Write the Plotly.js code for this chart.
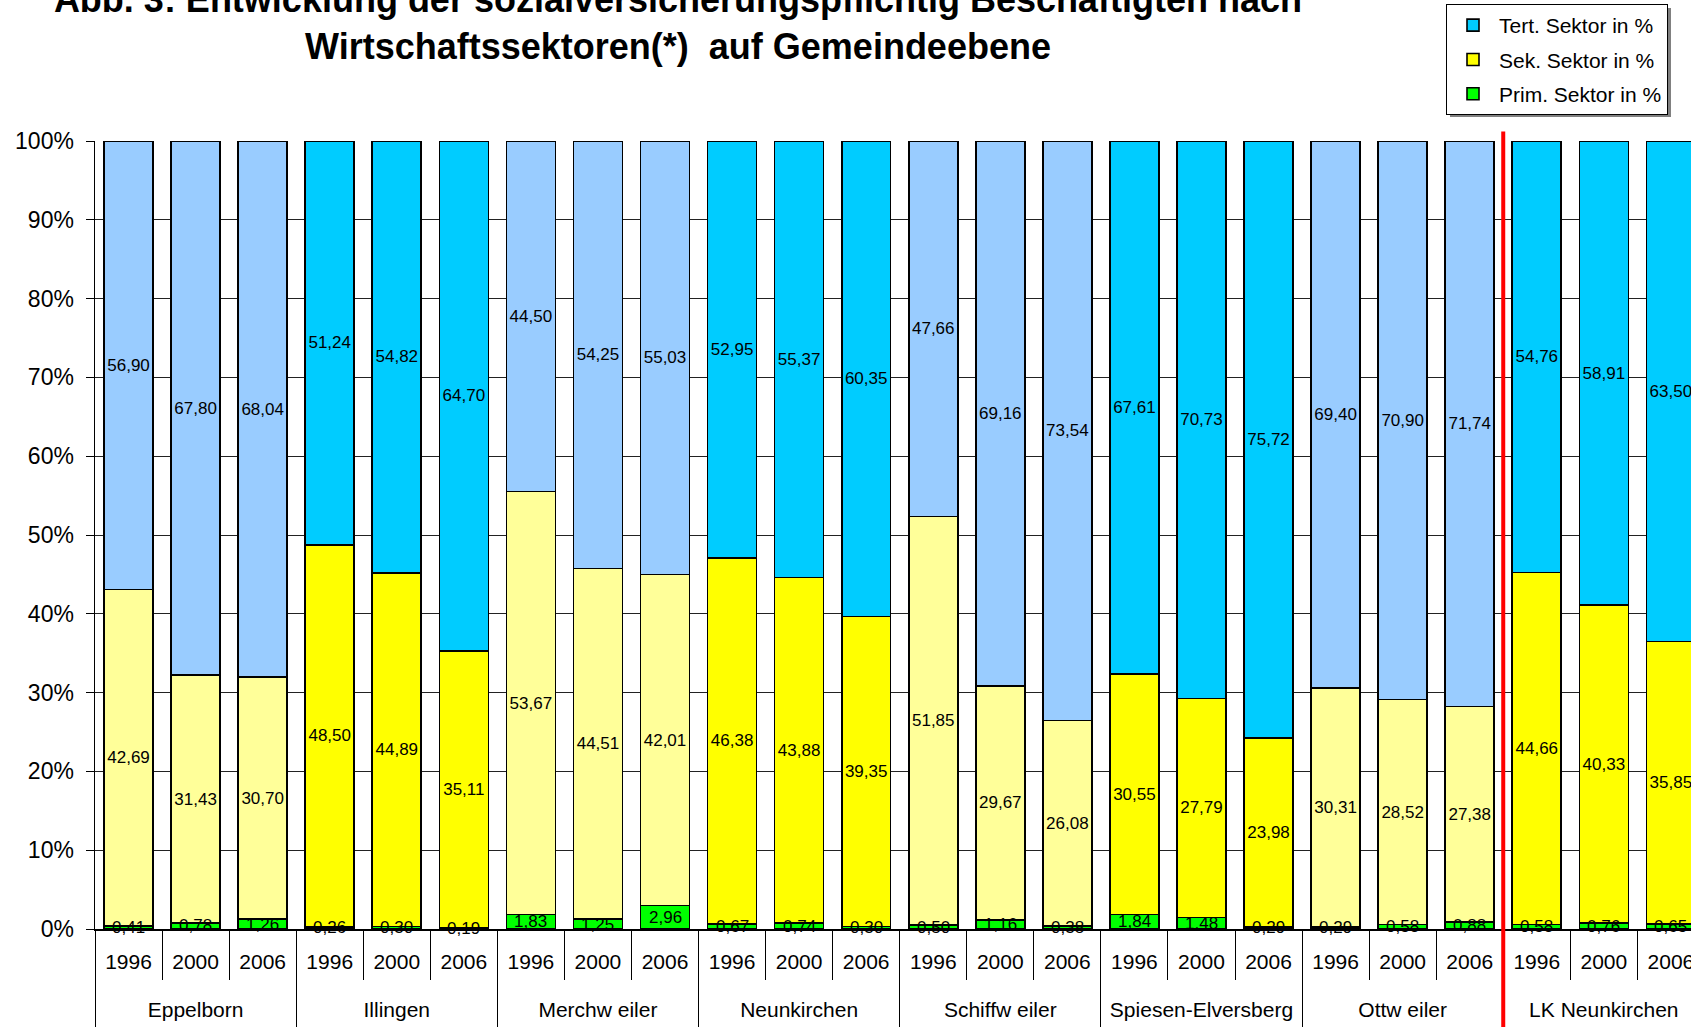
<!DOCTYPE html>
<html>
<head>
<meta charset="utf-8">
<script src="https://cdn.plot.ly/plotly-3.0.1.min.js"></script>
<style>
  html, body { margin: 0; padding: 0; background: #fff; overflow: hidden; }
  #chart { width: 1691px; height: 1027px; }
</style>
</head>
<body>
<div id="chart"></div>
<script>
// Gemeinden and years (3 bars per Gemeinde)
const gemeinden = ['Eppelborn', 'Illingen', 'Merchw eiler', 'Neunkirchen', 'Schiffw eiler',
                   'Spiesen-Elversberg', 'Ottw eiler', 'LK Neunkirchen'];
const jahre = ['1996', '2000', '2006'];

// shares in % per bar, Gemeinde by Gemeinde
const primSektor = [0.41, 0.78, 1.26,  0.26, 0.30, 0.19,  1.83, 1.25, 2.96,  0.67, 0.74, 0.30,
                    0.50, 1.16, 0.38,  1.84, 1.48, 0.29,  0.29, 0.58, 0.88,  0.58, 0.76, 0.65];
const sekSektor  = [42.69, 31.43, 30.70,  48.50, 44.89, 35.11,  53.67, 44.51, 42.01,  46.38, 43.88, 39.35,
                    51.85, 29.67, 26.08,  30.55, 27.79, 23.98,  30.31, 28.52, 27.38,  44.66, 40.33, 35.85];
const tertSektor = [56.90, 67.80, 68.04,  51.24, 54.82, 64.70,  44.50, 54.25, 55.03,  52.95, 55.37, 60.35,
                    47.66, 69.16, 73.54,  67.61, 70.73, 75.72,  69.40, 70.90, 71.74,  54.76, 58.91, 63.50];

const sektoren = [
    { name: 'Prim. Sektor in %', vals: primSektor, hell: '#00FF00', kraeftig: '#00FF00', rank: 3, label: false },
    { name: 'Sek. Sektor in %',  vals: sekSektor,  hell: '#FFFF99', kraeftig: '#FFFF00', rank: 2, label: true },
    { name: 'Tert. Sektor in %', vals: tertSektor, hell: '#99CCFF', kraeftig: '#00CCFF', rank: 1, label: true }
];

const nJ = jahre.length;
const allIdx = gemeinden.flatMap((g, gi) => jahre.map((j, ji) => gi * nJ + ji));
const fmt = v => v.toFixed(2).replace('.', ',');
const labelFont = () => ({ family: 'Liberation Sans, Arial, sans-serif', size: 17, color: '#000' });

// Gemeinden alternate between pale and strong colours
const traces = [];
sektoren.forEach(s => {
    ['hell', 'kraeftig'].forEach(shade => {
        const idx = allIdx.filter(i => (Math.floor(i / nJ) % 2 === 1) === (shade === 'kraeftig'));
        traces.push({
            type: 'bar',
            name: s.name,
            legendgroup: s.name,
            legendrank: s.rank,
            showlegend: shade === 'kraeftig',
            x: idx,
            y: idx.map(i => s.vals[i]),
            text: s.label ? idx.map(i => fmt(s.vals[i])) : undefined,
            textposition: s.label ? 'inside' : 'none',
            insidetextanchor: 'middle',
            constraintext: 'none',
            textangle: 0,
            textfont: labelFont(),
            insidetextfont: labelFont(),
            marker: { color: s[shade], line: { color: '#000', width: 1.6 } },
            hoverinfo: 'skip'
        });
    });
});

const groupCenters = gemeinden.map((g, gi) => gi * nJ + (nJ - 1) / 2);

// empty trace so the Gemeinde axis gets drawn
traces.push({
    type: 'scatter', mode: 'none', xaxis: 'x2', yaxis: 'y',
    x: groupCenters, y: groupCenters.map(() => null),
    showlegend: false, hoverinfo: 'skip'
});

// primary-sector labels sit on top of everything, centred on their thin segment
const primLabels = allIdx.map(i => ({
    xref: 'x', yref: 'y', x: i, y: primSektor[i] / 2,
    text: fmt(primSektor[i]), showarrow: false,
    font: labelFont(), xanchor: 'center', yanchor: 'middle'
}));

const xRange = [-0.5, 23.3];

// pixel -> paper helpers for the legend shadow (plot area: x 95..1691, y 141..929)
const px = v => (v - 95) / 1596;
const py = v => (929 - v) / 788;

// thin year dividers come from xaxis minor ticks, long group dividers from xaxis2 minor ticks
const layout = {
    width: 1691, height: 1027,
    paper_bgcolor: '#fff', plot_bgcolor: '#fff',
    font: { family: 'Liberation Sans, Arial, sans-serif', color: '#000' },
    separators: ',.',
    barmode: 'stack',
    bargap: 0.27,
    uniformtext: { mode: 'show', minsize: 17 },
    margin: { l: 95, r: 0, t: 141, b: 98, autoexpand: false },
    title: {
        text: 'Abb. 3: Entwicklung der sozialversicherungspflichtig Beschäftigten nach<br>Wirtschaftssektoren(*)  auf Gemeindeebene',
        font: { size: 36, weight: 'bold', color: '#000' },
        xref: 'container', x: 678 / 1691, xanchor: 'center',
        yref: 'container', y: 1 - 12 / 1027, yanchor: 'bottom'
    },
    xaxis: {
        type: 'linear',
        range: xRange,
        tickmode: 'array',
        tickvals: allIdx,
        ticktext: allIdx.map(i => jahre[i % nJ]),
        ticks: '',
        tickfont: { size: 21 },
        ticklabelstandoff: 13,
        ticklabeloverflow: 'allow',
        showgrid: false, zeroline: false,
        showline: true, linecolor: '#000', linewidth: 1.5,
        minor: { tickmode: 'linear', tick0: -0.5, dtick: 1, ticks: 'outside', ticklen: 49, tickcolor: '#000', tickwidth: 1, showgrid: false }
    },
    xaxis2: {
        type: 'linear',
        overlaying: 'x', anchor: 'y', side: 'bottom',
        range: xRange,
        tickmode: 'array',
        tickvals: groupCenters,
        ticktext: gemeinden,
        ticks: '',
        tickfont: { size: 21 },
        ticklabelstandoff: 66,
        ticklabeloverflow: 'allow',
        showgrid: false, zeroline: false, showline: false,
        minor: { tickmode: 'linear', tick0: -0.5, dtick: nJ, ticks: 'outside', ticklen: 98, tickcolor: '#000', tickwidth: 1, showgrid: false }
    },
    yaxis: {
        range: [0, 100],
        dtick: 10,
        ticksuffix: '%',
        ticks: 'outside', ticklen: 8, tickcolor: '#000',
        tickfont: { size: 23 },
        ticklabelstandoff: 7,
        showgrid: true, gridcolor: '#222', gridwidth: 1,
        zeroline: false,
        showline: true, linecolor: '#000', linewidth: 1.5
    },
    legend: {
        xref: 'container', yref: 'container',
        x: 1446 / 1691, xanchor: 'left',
        y: 1 - 4 / 1027, yanchor: 'top',
        traceorder: 'grouped',
        tracegroupgap: 4,
        itemwidth: 42,
        bgcolor: '#fff', bordercolor: '#000', borderwidth: 1,
        font: { size: 21, color: '#000' }
    },
    annotations: primLabels,
    shapes: [
        // grey drop shadow behind the legend box
        { type: 'rect', xref: 'paper', yref: 'paper', x0: px(1450), x1: px(1671), y0: py(117), y1: py(8),
          fillcolor: '#808080', line: { width: 0 }, layer: 'above' },
        // red separator before the Landkreis
        { type: 'line', xref: 'x', yref: 'paper', x0: 20.5, x1: 20.5, y0: -0.13, y1: 1.012,
          line: { color: '#FF0000', width: 4 } }
    ]
};

Plotly.newPlot('chart', traces, layout, { displayModeBar: false, staticPlot: true });
</script>
</body>
</html>
